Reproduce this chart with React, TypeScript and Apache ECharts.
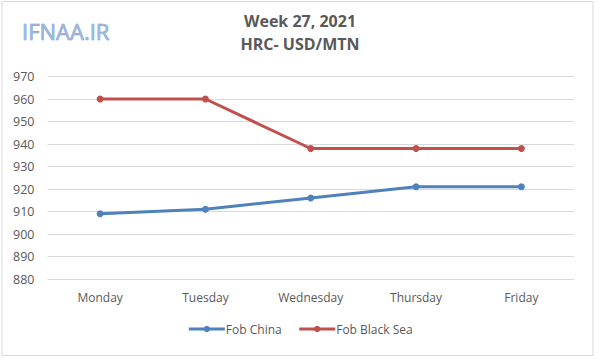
import React, { useEffect, useRef } from "react";
import * as echarts from "echarts";

const categories = ["Monday", "Tuesday", "Wednesday", "Thursday", "Friday"];
const fobChina = [909, 911, 916, 921, 921];
const fobBlackSea = [960, 960, 938, 938, 938];
const seriesNames = ["Fob China", "Fob Black Sea"];
const titleLines = ["Week 27, 2021", "HRC- USD/MTN"];
const logoText = "IFNAA.IR";

export default function App() {
  const ref = useRef<HTMLDivElement>(null);
  useEffect(() => {
    if (!ref.current) return;
    const chart = echarts.init(ref.current, null, { renderer: "svg" });
    const font = "'Open Sans', sans-serif";
    chart.setOption({
      animation: false,
      backgroundColor: "#ffffff",
      textStyle: { fontFamily: font },
      graphic: [
        {
          type: "rect",
          shape: { x: 2, y: 1.5, width: 591, height: 354 },
          style: { fill: "none", stroke: "#d9d9d9", lineWidth: 1 },
          silent: true,
        },
        {
          type: "text",
          x: 22,
          y: 20,
          style: {
            text: logoText,
            font: "22px 'Open Sans', sans-serif",
            fill: "#9db5e0",
            stroke: "#6f8fc8",
            lineWidth: 0.6,
            shadowColor: "rgba(90,90,130,0.55)",
            shadowOffsetX: 1,
            shadowOffsetY: 2,
            shadowBlur: 2,
          },
        },
        {
          type: "text",
          x: 300,
          y: 13,
          style: {
            text: titleLines[0],
            font: "bold 16px 'Open Sans', sans-serif",
            fill: "#595959",
            align: "center",
          },
        },
        {
          type: "text",
          x: 300,
          y: 36,
          style: {
            text: titleLines[1],
            font: "bold 16px 'Open Sans', sans-serif",
            fill: "#595959",
            align: "center",
          },
        },
      ],
      legend: {
        bottom: 22,
        left: "center",
        itemWidth: 36,
        itemHeight: 8,
        itemGap: 16,
        lineStyle: { width: 3 },
        textStyle: { color: "#595959", fontSize: 12, fontFamily: font, padding: [0, 0, 0, -4] },
        data: seriesNames,
      },
      grid: { left: 47.5, right: 26, top: 76.5, bottom: 83, containLabel: false },
      xAxis: {
        type: "category",
        data: categories,
        boundaryGap: true,
        axisLine: { show: false },
        axisTick: { show: false },
        axisLabel: { color: "#595959", fontSize: 12, margin: 12, fontFamily: font },
      },
      yAxis: {
        type: "value",
        min: 880,
        max: 970,
        interval: 10,
        axisLine: { show: false },
        axisTick: { show: false },
        axisLabel: { color: "#595959", fontSize: 12.5, margin: 13, fontFamily: font },
        splitLine: { lineStyle: { color: "#d9d9d9", width: 1 } },
      },
      series: [
        {
          name: seriesNames[0],
          type: "line",
          data: fobChina,
          symbol: "circle",
          symbolSize: 7,
          lineStyle: { color: "#4f81bd", width: 3 },
          itemStyle: { color: "#4f81bd" },
        },
        {
          name: seriesNames[1],
          type: "line",
          data: fobBlackSea,
          symbol: "circle",
          symbolSize: 7,
          lineStyle: { color: "#c0504d", width: 3 },
          itemStyle: { color: "#c0504d" },
        },
      ],
    });
    return () => chart.dispose();
  }, []);
  return <div ref={ref} style={{ width: 600, height: 362, position: "absolute", left: 0, top: 0 }} />;
}
